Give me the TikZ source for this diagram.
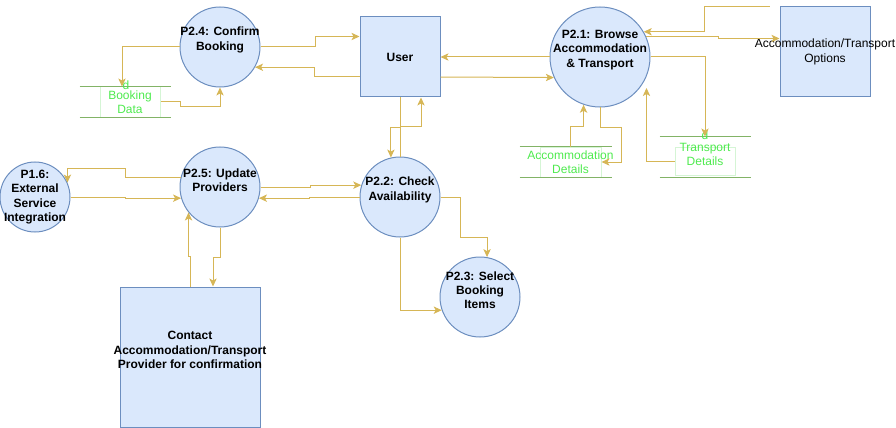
\documentclass[tikz,border=0pt]{standalone}
\usepackage{fontspec}
\setmainfont{Liberation Sans}
\usetikzlibrary{arrows.meta}
\usetikzlibrary{calc}
\newcommand{\dfont}{\fontsize{9}{10.7}\selectfont}
\definecolor{pfill}{HTML}{DAE8FC}
\definecolor{pblue}{HTML}{6C8EBF}
\definecolor{mgold}{HTML}{D6B656}
\definecolor{mgreen}{HTML}{82B366}
\definecolor{mgreenl}{HTML}{D5F5D5}
\definecolor{mgreent}{HTML}{4EEA4E}
\tikzset{proc/.style = {circle, draw = pblue, fill = pfill, inner sep = 0}}
\tikzset{ent/.style = {rectangle, draw = pblue, fill = pfill, inner sep = 0, font = \dfont\bfseries}}
\tikzset{ptext/.style = {align = center, inner sep = 0, font = \dfont\bfseries}}
\tikzset{stext/.style = {align = center, inner sep = 0, text = mgreent, font = \dfont}}
\tikzset{raised/.style = {yshift = 5.25pt}}
\tikzset{store/.style = {rectangle, draw = mgreenl, inner sep = 0, minimum width = 45pt, minimum height = 22.5pt}}
\tikzset{dmark/.style = {inner sep = 0, text = mgreent, font = \dfont}}
\tikzset{sline/.style = {draw = mgreen}}
\tikzset{flow/.style = {draw = mgold, -{Stealth[length = 6pt, width = 5.5pt, inset = 1.5pt]}}}

\begin{document}
\begin{tikzpicture}[x = 0.75pt, y = -0.75pt, line width = 0.75pt]
    \useasboundingbox (0, 0) rectangle (896, 428);

    \node [ent, minimum size = 60pt] (user) at (400, 57) {User};
    \node [ent, minimum size = 67.5pt, label = {[ptext, font = \dfont, name = optst]center:{Accommodation/Transport\\Options}}] (opts) at (825, 52) {};
    \node [ent, minimum size = 105pt, label = {[ptext, raised, name = contactt]center:{Contact\\Accommodation/Transport\\Provider for confirmation}}] (contact) at (190, 357) {};

    \node [proc, minimum size = 60pt, label = {[ptext, raised, name = p24t]center:{P2.4: Confirm\\Booking}}] (p24) at (220, 47) {};
    \node [proc, minimum size = 75pt, label = {[ptext, raised, name = p21t]center:{P2.1: Browse\\Accommodation\\\& Transport}}] (p21) at (600, 57) {};
    \node [proc, minimum size = 52.5pt, label = {[ptext, name = p16t]center:{P1.6:\\External\\Service\\Integration}}] (p16) at (35, 197) {};
    \node [proc, minimum size = 60pt, label = {[ptext, raised, name = p25t]center:{P2.5: Update\\Providers}}] (p25) at (220, 187) {};
    \node [proc, minimum size = 60pt, label = {[ptext, raised, name = p22t]center:{P2.2: Check\\Availability}}] (p22) at (400, 197) {};
    \node [proc, minimum size = 60pt, label = {[ptext, raised, name = p23t]center:{P2.3: Select\\Booking\\Items}}] (p23) at (480, 297) {};

    \node [store, label = {[stext, name = bdatat]center:{Booking\\Data}}] (bdata) at (130, 102) {};
    \draw [sline] ($(bdata.north west)+(-20, 0)$) -- ($(bdata.north east)+(10, 0)$);
    \draw [sline] ($(bdata.south west)+(-20, 0)$) -- ($(bdata.south east)+(10, 0)$);
    \node [dmark] (bdatad) at ($(bdata.north)+(-4, -1.5)$) {d};

    \node [store, minimum width = 45.75pt, label = {[stext, name = adatat]center:{Accommodation\\Details}}] (adata) at (570.5, 162) {};
    \draw [sline] ($(adata.north west)+(-20, 0)$) -- ($(adata.north east)+(10, 0)$);
    \draw [sline] ($(adata.south west)+(-20, 0)$) -- ($(adata.south east)+(10, 0)$);

    \node [store, minimum height = 21pt, label = {[stext, yshift = 4.9pt, name = tdatat]center:{Transport\\Details}}] (tdata) at (705, 161) {};
    \draw [sline] ($(tdata.north west)+(-15, -10)$) -- ($(tdata.north east)+(15, -10)$);
    \draw [sline] ($(tdata.south west)+(-15, 2)$) -- ($(tdata.south east)+(15, 2)$);
    \node [dmark] (tdatad) at ($(tdata.north)+(0, -11)$) {d};

    \draw [flow] (p24.east) -- ++(55, 0) |- ($(user.north west)+(0, 20)$);
    \draw [flow] ($(user.north west)+(0, 60)$) -- ++(-45, 0) |- (p24.-30);
    \draw [flow] (p24.west) -| ($(bdata.north)+(-8, 0)$);
    \draw [flow] (bdata.east) -- ++(20, 0) -- ++(0, 5) -| (p24.south);

    \draw [flow] (user.south) -- ++(0, 30) -| (p22.103);
    \draw [flow] (p22.north) -- ++(0, -30) -| ($(user.south)+(21, 0)$);

    \draw [flow] (p21.west) -- (user.east);
    \draw [flow] ($(user.east)+(0, 20)$) -- (p21.204);
    \coordinate (optin) at ($(opts.north west)+(-10, 0)$);
    \draw [flow] (optin) -- ++(-65, 0) |- (p21.30);
    \draw [flow] (p21.24) -- ++(72, 0) |- ($(opts.north west)+(0, 32)$);
    \draw [flow] (p21.east) -| ($(tdata.north)+(0, -10)$);
    \draw [flow] (tdata.west) -| ($(p21.east)+(-4, 31)$);
    \draw [flow] (adata.north) -- ++(0, -20) -| (p21.251);
    \draw [flow] (p21.south) -- ++(0, 20) -- ++(21, 0) |- (adata.east);

    \draw [flow] (p25.166) -- ++(-55, 0) -- ++(0, -9) -| (p16.24);
    \draw [flow] (p16.east) -- ++(55, 0) |- (p25.196);
    \draw [flow] (p25.east) -- ++(50, 0) |- (p22.163);
    \draw [flow] (p22.west) -- ++(-50, 0) |- (p25.-16);
    \draw [flow] (contact.north) -- ++(0, -30) -| (p25.219);
    \draw [flow] (p25.south) -- ++(0, 30) -| ($(contact.north)+(23, 0)$);

    \draw [flow] (p22.east) -- ++(20, 0) -- ++(0, 40) -| (p23.80);
    \draw [flow] (p22.south) |- (p23.199);
\end{tikzpicture}
\end{document}
